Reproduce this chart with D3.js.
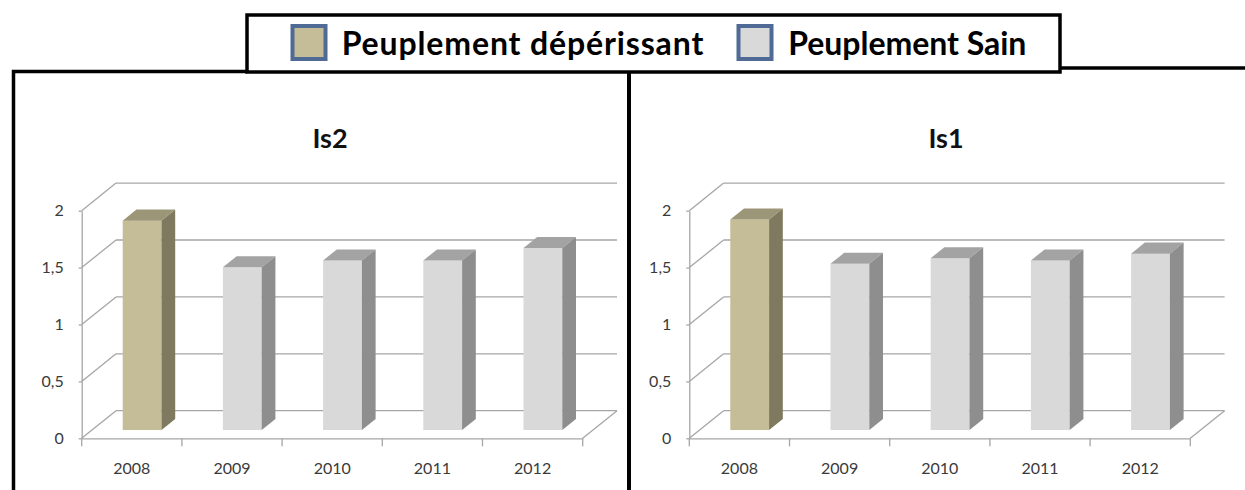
<!DOCTYPE html>
<meta charset="utf-8">
<style>
  body { margin: 0; background: #fff; }
  svg { display: block; }
  .grid line { stroke: #a6a6a6; stroke-width: 1.3; }
  .axis path, .axis line { stroke: #a6a6a6; stroke-width: 1.3; }
  .axis text { font-family: Lato, sans-serif; font-size: 16px; fill: #3a3a3a; }
</style>
<body>
<script src="https://d3js.org/d3.v7.min.js"></script>
<script>
// data
var years = ["2008", "2009", "2010", "2011", "2012"];
var groupes = ["dépérissant", "sain", "sain", "sain", "sain"];
var is2 = [1.84, 1.43, 1.49, 1.49, 1.60];
var is1 = [1.85, 1.46, 1.51, 1.49, 1.55];
var yTicks = [0, 0.5, 1, 1.5, 2];
var legendLabels = ["Peuplement dépérissant", "Peuplement Sain"];

var colors = {
  "dépérissant": {front: "#c4bd97", top: "#9c9678", side: "#7f7a5f"},
  "sain": {front: "#d9d9d9", top: "#a3a3a3", side: "#8e8e8e"}
};

var width = 1245, height = 490;
// 3d depth of the plot (floor / walls)
var DX = 34.3, DY = -27.6;
var plotW = 501;

var svg = d3.select("body").append("svg")
    .attr("width", width)
    .attr("height", height);

var fr = d3.formatLocale({decimal: ",", thousands: " ", grouping: [3], currency: ["", "€"]}).format("~g");

function drawChart(ox, titleX, title, values) {
  var g = svg.append("g");

  var y = d3.scaleLinear().domain([0, 2]).range([438.3, 210.7]);
  var x = d3.scaleBand().domain(years).range([ox, ox + plotW]);

  // side wall gridlines
  var grid = g.append("g").attr("class", "grid");
  grid.selectAll(".side").data(yTicks).join("line")
      .attr("class", "side")
      .attr("x1", ox).attr("y1", function(d) { return y(d); })
      .attr("x2", ox + DX).attr("y2", function(d) { return y(d) + DY; });

  // back wall gridlines
  grid.selectAll(".back").data(yTicks).join("line")
      .attr("class", "back")
      .attr("x1", ox + DX).attr("y1", function(d) { return y(d) + DY; })
      .attr("x2", ox + DX + plotW).attr("y2", function(d) { return y(d) + DY; });

  // floor right edge
  grid.append("line")
      .attr("x1", ox + plotW).attr("y1", y(0))
      .attr("x2", ox + plotW + DX).attr("y2", y(0) + DY);

  // y axis
  g.append("g")
      .attr("class", "axis")
      .attr("transform", "translate(" + ox + ",0)")
      .call(d3.axisLeft(y).tickValues(yTicks).tickSize(3).tickSizeOuter(0).tickPadding(15).tickFormat(fr))
      .attr("font-family", null).attr("font-size", null);

  // x axis (labels centred on the front of each band)
  g.append("g")
      .attr("class", "axis")
      .attr("transform", "translate(0," + y(0) + ")")
      .call(d3.axisBottom(x).tickSize(0).tickSizeOuter(0).tickPadding(24))
      .attr("font-family", null).attr("font-size", null);

  // ticks between categories
  g.append("g").attr("class", "grid")
    .selectAll("line").data(d3.range(years.length + 1)).join("line")
      .attr("x1", function(i) { return ox + i * x.step(); })
      .attr("x2", function(i) { return ox + i * x.step(); })
      .attr("y1", y(0)).attr("y2", y(0) + 8);

  // bars
  var bw = 38.8, f0 = 0.30, fd = 0.40;
  var bars = values.map(function(v, i) {
    var bx = x(years[i]) + (x.bandwidth() - bw) / 2 + f0 * DX;
    return {
      bx: bx,
      ty: y(v) + f0 * DY,
      by: y(0) + f0 * DY,
      c: colors[groupes[i]]
    };
  });
  var ddx = fd * DX, ddy = fd * DY;

  var bar = g.selectAll(".bar").data(bars).join("g").attr("class", "bar");

  bar.append("rect")
      .attr("x", function(d) { return d.bx; })
      .attr("y", function(d) { return d.ty; })
      .attr("width", bw)
      .attr("height", function(d) { return d.by - d.ty; })
      .attr("fill", function(d) { return d.c.front; });

  bar.append("path")
      .attr("d", function(d) {
        return "M" + d.bx + "," + d.ty + "L" + (d.bx + bw) + "," + d.ty +
          "L" + (d.bx + bw + ddx) + "," + (d.ty + ddy) + "L" + (d.bx + ddx) + "," + (d.ty + ddy) + "Z";
      })
      .attr("fill", function(d) { return d.c.top; });

  bar.append("path")
      .attr("d", function(d) {
        return "M" + (d.bx + bw) + "," + d.ty + "L" + (d.bx + bw + ddx) + "," + (d.ty + ddy) +
          "L" + (d.bx + bw + ddx) + "," + (d.by + ddy) + "L" + (d.bx + bw) + "," + d.by + "Z";
      })
      .attr("fill", function(d) { return d.c.side; });

  // title
  g.append("text")
      .attr("x", titleX)
      .attr("y", 148)
      .attr("text-anchor", "middle")
      .style("font-family", "Lato, sans-serif")
      .style("font-weight", "bold")
      .style("font-size", "27px")
      .style("fill", "#111")
      .text(title);
}

drawChart(81.7, 330, "Is2", is2);
drawChart(689.3, 946, "Is1", is1);

// panel frames
var frame = svg.append("g")
    .attr("stroke", "#000")
    .attr("fill", "none");
frame.append("path")
    .attr("stroke-width", 3.5)
    .attr("d", "M13.5,490V71.5H247");
frame.append("path")
    .attr("stroke-width", 4)
    .attr("d", "M629,72V490");
frame.append("path")
    .attr("stroke-width", 3.5)
    .attr("d", "M1060,68H1245");

// legend
svg.append("rect")
    .attr("x", 247).attr("y", 15)
    .attr("width", 813).attr("height", 57)
    .attr("fill", "#fff")
    .attr("stroke", "#000")
    .attr("stroke-width", 3.5);

var legendX = [292.5, 738.5];
var legendTextX = [341.7, 788.3];
var legendTextW = [361.6, 238];
var legendFill = [colors["dépérissant"].front, colors["sain"].front];

var legend = svg.selectAll(".legend")
    .data(legendLabels)
    .join("g")
    .attr("class", "legend");

legend.append("rect")
    .attr("x", function(d, i) { return legendX[i]; })
    .attr("y", 26)
    .attr("width", 33).attr("height", 33)
    .attr("fill", function(d, i) { return legendFill[i]; })
    .attr("stroke", "#4f6b95")
    .attr("stroke-width", 4);

legend.append("text")
    .attr("x", function(d, i) { return legendTextX[i]; })
    .attr("y", 55)
    .attr("textLength", function(d, i) { return legendTextW[i]; })
    .style("font-family", "Lato, sans-serif")
    .style("font-weight", "bold")
    .style("font-size", "32px")
    .style("fill", "#000")
    .text(function(d) { return d; });
</script>
